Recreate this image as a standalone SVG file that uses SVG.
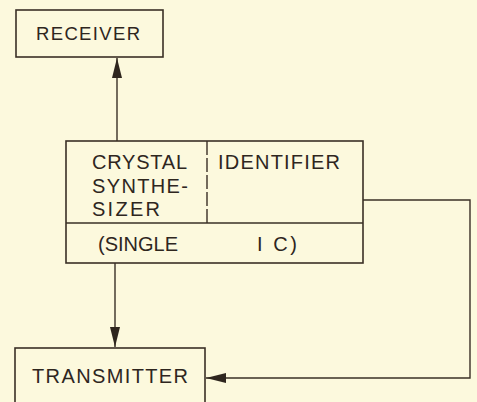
<svg xmlns="http://www.w3.org/2000/svg" width="477" height="402" viewBox="0 0 477 402">
<defs>
<style>
.box{fill:none;stroke:#3a3026;stroke-width:1.6}
.ln{fill:none;stroke:#3a3026;stroke-width:1.4}
.t{font-family:"Liberation Sans",Arial,sans-serif;font-size:20px;fill:#2e261e}
</style>
<marker id="ah2" viewBox="0 0 10 10" refX="10" refY="5" markerWidth="20" markerHeight="10" markerUnits="userSpaceOnUse" orient="auto" preserveAspectRatio="none">
<path d="M0,0 L10,5 L0,10 Z" fill="#2e261e"/>
</marker>
</defs>
<rect width="477" height="402" fill="#fcf9dd"/>
<g id="receiver">
<rect class="box" x="16" y="10" width="147" height="47"/>
<text class="t" x="36" y="40" style="font-size:18.5px" textLength="104" lengthAdjust="spacing">RECEIVER</text>
</g>
<g id="synthesizer">
<rect class="box" x="66" y="141" width="297" height="122"/>
<line class="ln" x1="66" y1="223" x2="363" y2="223"/>
<line class="ln" x1="207" y1="141" x2="207" y2="223" stroke-dasharray="14,3"/>
<text class="t" x="92" y="169" textLength="95" lengthAdjust="spacing">CRYSTAL</text>
<text class="t" x="92" y="193" textLength="96" lengthAdjust="spacing">SYNTHE-</text>
<text class="t" x="92" y="216" textLength="68" lengthAdjust="spacing">SIZER</text>
<text class="t" x="218" y="169" textLength="122" lengthAdjust="spacing">IDENTIFIER</text>
<text class="t" x="98" y="251" textLength="80" lengthAdjust="spacing">(SINGLE</text>
<text class="t" x="257" y="251" textLength="40" lengthAdjust="spacing">I C)</text>
</g>
<g id="transmitter">
<rect class="box" x="15" y="348" width="190" height="60"/>
<text class="t" x="32" y="383" textLength="156" lengthAdjust="spacing">TRANSMITTER</text>
</g>
<g id="connectors">
<line class="ln" x1="117" y1="141" x2="117" y2="58" marker-end="url(#ah2)"/>
<line class="ln" x1="115" y1="263" x2="115" y2="347" marker-end="url(#ah2)"/>
<polyline class="ln" points="363,200 470,200 470,378 206,378" marker-end="url(#ah2)"/>
</g>
</svg>
